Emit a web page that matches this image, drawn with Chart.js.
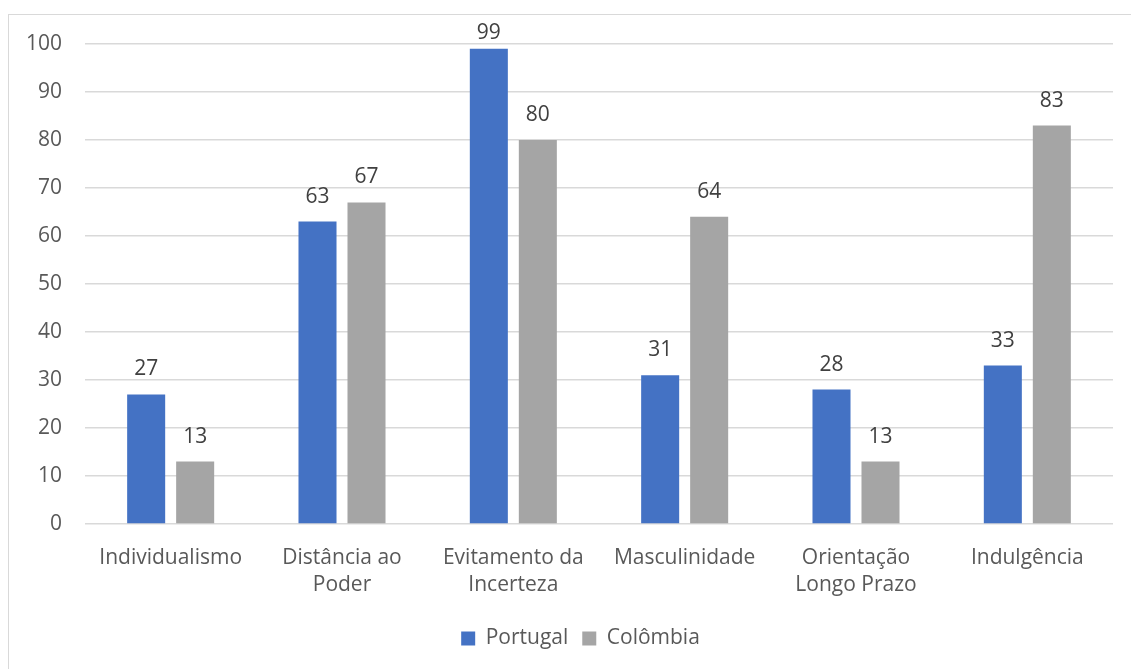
<!DOCTYPE html>
<html>
<head>
<meta charset="utf-8">
<script src="https://cdn.jsdelivr.net/npm/chart.js@4.4.0/dist/chart.umd.min.js"></script>
<style>
  html, body { margin: 0; padding: 0; background: #fff; }
  #frame { position: absolute; left: 8px; top: 14px; width: 1140px; height: 680px; border: 1px solid #d9d9d9; }
  #wrap { position: absolute; left: 0; top: 0; width: 1131px; height: 669px; }
</style>
</head>
<body>
<div id="frame"></div>
<div id="wrap"><canvas id="chart"></canvas></div>
<script>
var categories = [
  ['Individualismo'],
  ['Distância ao', 'Poder'],
  ['Evitamento da', 'Incerteza'],
  ['Masculinidade'],
  ['Orientação', 'Longo Prazo'],
  ['Indulgência'],
];
var portugal = [27, 63, 99, 31, 28, 33];
var colombia = [13, 67, 80, 64, 13, 83];
var yTicks = [0, 10, 20, 30, 40, 50, 60, 70, 80, 90, 100];

var FONT = '"Open Sans", sans-serif';

var valueLabels = {
  id: 'valueLabels',
  afterDatasetsDraw: function (chart) {
    var ctx = chart.ctx;
    ctx.save();
    ctx.font = '21px ' + FONT;
    ctx.fillStyle = '#404040';
    ctx.textAlign = 'center';
    ctx.textBaseline = 'middle';
    chart.data.datasets.forEach(function (ds, i) {
      chart.getDatasetMeta(i).data.forEach(function (bar, j) {
        // keep labels inside the frame (the 99 gets pushed down)
        ctx.fillText(ds.data[j], bar.x, Math.max(bar.y - 25, 33));
      });
    });
    ctx.restore();
  },
};

// centre the legend a bit to the right, like the original
var legendShift = {
  id: 'legendShift',
  afterLayout: function (chart) {
    chart.legend.left += 48;
  },
};

var ctx = document.getElementById('chart').getContext('2d');
var chart = new Chart(ctx, {
  type: 'bar',
  plugins: [valueLabels, legendShift],
  data: {
    labels: categories,
    datasets: [
      {
        label: 'Portugal',
        data: portugal,
        backgroundColor: '#4472C4',
        categoryPercentage: 0.572,
        barPercentage: 0.776,
      },
      {
        label: 'Colômbia',
        data: colombia,
        backgroundColor: '#A5A5A5',
        categoryPercentage: 0.572,
        barPercentage: 0.776,
      },
    ],
  },
  options: {
    responsive: true,
    maintainAspectRatio: false,
    animation: false,
    layout: { padding: { left: 0, right: 18, top: 44, bottom: 10 } },
    plugins: {
      tooltip: { enabled: false },
      legend: {
        position: 'bottom',
        labels: {
          boxWidth: 14,
          boxHeight: 14,
          padding: 14,
          color: '#595959',
          font: { family: FONT, size: 21 },
        },
      },
    },
    scales: {
      x: {
        grid: { display: false },
        border: { display: false },
        ticks: {
          color: '#595959',
          font: { family: FONT, size: 21, lineHeight: 1.3 },
          padding: 12,
          maxRotation: 0,
          autoSkip: false,
        },
        afterFit: function (scale) { scale.height = 90; },
      },
      y: {
        min: 0,
        max: 100,
        afterBuildTicks: function (scale) {
          scale.ticks = yTicks.map(function (v) { return { value: v }; });
        },
        grid: { color: '#d9d9d9', lineWidth: 1.5, drawTicks: false },
        border: { display: false },
        ticks: {
          color: '#595959',
          font: { family: FONT, size: 21 },
          padding: 23,
        },
        afterFit: function (scale) { scale.width = 85; },
      },
    },
  },
});
</script>
</body>
</html>
